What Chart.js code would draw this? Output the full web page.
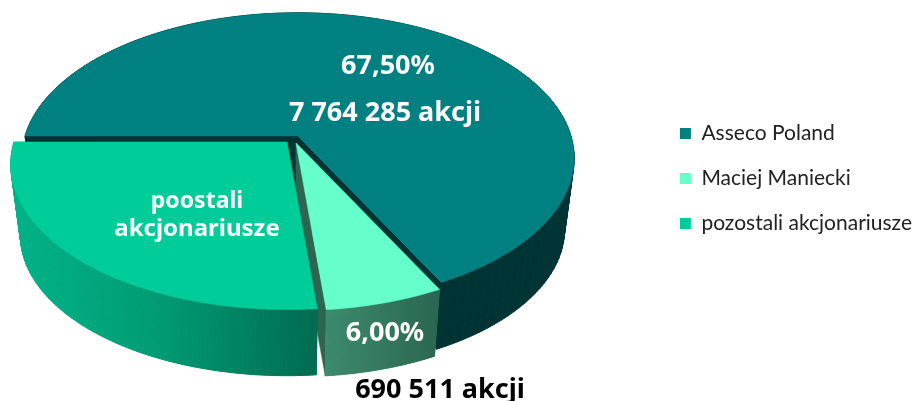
<!DOCTYPE html>
<html>
<head>
<meta charset="utf-8">
<style>
	html, body { margin: 0; padding: 0; background: #fff; }
	canvas { display: block; }
</style>
<script src="https://cdn.jsdelivr.net/npm/chart.js@4/dist/chart.umd.js"></script>
</head>
<body>
<canvas id="myChart" width="915" height="401"></canvas>
<script>
// данные
const categories = ["Asseco Poland", "Maciej Maniecki", "pozostali akcjonariusze"];
const shares = [67.5, 6, 26.5];
const colors = ["#008080", "#66FFCC", "#00CC99"];

// подписи на секторах
const labelTexts = ["67,50%", "7 764 285 akcji", "poostali", "akcjonariusze", "6,00%", "690 511 akcji"];

// перспектива и глубина "3D" пирога
const pie = { x: 298, y: 136, rx: 273, ry: 142, k: 0.1525, depth: 72, bottomScale: 0.965 };
const shift = [{ x: 0, y: 0 }, { x: -2, y: 7 }, { x: -11, y: 6 }];
const sideColors = [
	[[0, "#003333"], [1, "#003333"]],
	[[0, "#3C8A6E"], [1, "#2B6650"]],
	[[0, "#00B388"], [0.5, "#009A72"], [1, "#006B50"]],
];
const cutColors = ["#003333", "#2D6650", "#006B50"];

function project(angle, radius, i, bottom) {
	const u = Math.cos(angle) * radius;
	const v = Math.sin(angle) * radius;
	const w = 1 - pie.k * v;
	const s = bottom ? pie.bottomScale : 1;
	return [
		pie.x + shift[i].x + (s * pie.rx * u) / w,
		pie.y + shift[i].y + (bottom ? pie.depth : 0) + (s * pie.ry * v) / w,
	];
}

function arcPoints(arc, i, bottom) {
	const pts = [];
	const steps = 120;
	for (let n = 0; n <= steps; n++) {
		const a = arc.startAngle + ((arc.endAngle - arc.startAngle) * n) / steps;
		pts.push(project(a, 1, i, bottom));
	}
	return pts;
}

function fillPoly(ctx, pts, fill, lineWidth = 0.5) {
	ctx.beginPath();
	pts.forEach((p, n) => (n ? ctx.lineTo(p[0], p[1]) : ctx.moveTo(p[0], p[1])));
	ctx.closePath();
	ctx.fillStyle = fill;
	ctx.fill();
	ctx.strokeStyle = fill;
	ctx.lineWidth = lineWidth;
	ctx.stroke();
}

function drawSides(ctx, arc, i) {
	const top = arcPoints(arc, i, false);
	const bot = arcPoints(arc, i, true);
	const xs = top.concat(bot).map((p) => p[0]);
	const apexTop = project(0, 0, i, false);
	const apexBot = project(0, 0, i, true);

	// радиальные грани
	[[top[0], bot[0]], [top[top.length - 1], bot[bot.length - 1]]].forEach((e) => {
		fillPoly(ctx, [apexTop, e[0], e[1], apexBot], cutColors[i]);
	});

	// внешняя стенка по кусочкам, иначе на краях будет выемка
	const grad = ctx.createLinearGradient(Math.min(...xs), 0, Math.max(...xs), 0);
	sideColors[i].forEach((stop) => grad.addColorStop(stop[0], stop[1]));
	for (let n = 0; n < top.length - 1; n++) {
		fillPoly(ctx, [top[n], top[n + 1], bot[n + 1], bot[n]], grad, 1);
	}
}

function drawTop(ctx, arc, i) {
	fillPoly(ctx, [project(0, 0, i, false)].concat(arcPoints(arc, i, false)), colors[i]);
}

const pie3d = {
	id: "pie3d",
	beforeDatasetsDraw(chart) {
		const ctx = chart.ctx;
		const arcs = chart.getDatasetMeta(0).data;
		ctx.save();
		drawSides(ctx, arcs[0], 0);
		drawTop(ctx, arcs[0], 0);
		drawSides(ctx, arcs[1], 1);
		drawSides(ctx, arcs[2], 2);
		drawTop(ctx, arcs[2], 2);
		drawTop(ctx, arcs[1], 1);
		ctx.restore();
		return false;
	},
	afterDraw(chart) {
		const ctx = chart.ctx;
		const place = [
			[388, 66, "#fff", 27],
			[385, 113, "#fff", 27],
			[197, 201, "#fff", 23],
			[197, 229, "#fff", 24],
			[385, 333, "#fff", 27],
			[440, 390, "#000", 27],
		];
		ctx.save();
		ctx.textAlign = "center";
		ctx.textBaseline = "middle";
		labelTexts.forEach((text, i) => {
			ctx.font = "bold " + place[i][3] + "px 'Noto Sans'";
			ctx.fillStyle = place[i][2];
			ctx.fillText(text, place[i][0], place[i][1]);
		});
		ctx.restore();
	},
};

new Chart(document.getElementById("myChart"), {
	type: "pie",
	data: {
		labels: categories,
		datasets: [{ data: shares, backgroundColor: colors, borderWidth: 0, rotation: 270 }],
	},
	plugins: [pie3d],
	options: {
		responsive: false,
		animation: false,
		layout: { padding: { bottom: 44, right: -7 } },
		plugins: {
			tooltip: { enabled: false },
			legend: {
				position: "right",
				labels: {
					boxWidth: 11,
					boxHeight: 11,
					padding: 24,
					color: "#222",
					font: { family: "Lato", size: 21 },
				},
			},
		},
	},
});
</script>
</body>
</html>
